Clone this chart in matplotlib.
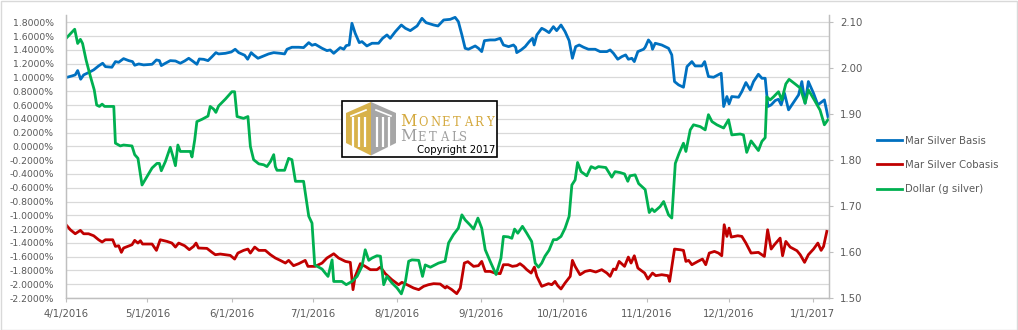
import numpy as np
import pandas as pd
import matplotlib
matplotlib.use("Agg")
import matplotlib.pyplot as plt
import matplotlib.dates as mdates
from matplotlib.patches import Rectangle, Polygon
from matplotlib.ticker import FuncFormatter

start = "2016-04-01"

# Mar Silver Basis (%), days after 4/1/2016
basis_days = [0, 2.2, 3.4, 4.3, 5.4, 6.5, 8.3, 10.2, 12.0, 13.5, 14.5, 16.9, 18.2, 19.4, 21.2, 23.1,
              24.5, 25.3, 26.8, 28.6, 31.7, 33.3, 34.4, 35.1, 36.6, 38.4, 40.3, 42.1, 43.7, 45.2, 46.6,
              48.2, 49.1, 50.7, 52.3, 53.8, 55.2, 56.2, 58.7, 60.9, 62.3, 63.6, 65.8, 66.9, 68.2, 69.1,
              70.7, 72.8, 74.6, 76.5, 78.9, 80.5, 81.4, 83.2, 85.7, 87.5, 89.4, 90.6, 91.8, 94.3, 96.1,
              97.3, 98.6, 101.0, 102.3, 103.2, 104.3, 105.3, 106.5, 108.0, 109.0, 110.8, 112.7, 115.1,
              116.6, 118.2, 119.4, 121.3, 123.5, 125.0, 126.8, 129.3, 131.1, 132.6, 135.4, 137.0, 139.1,
              141.5, 143.3, 144.5, 145.8, 147.0, 148.2, 150.7, 151.9, 153.1, 154.1, 156.2, 158.0, 159.9,
              161.1, 163.0, 164.8, 165.6, 166.0, 167.6, 169.1, 170.6, 171.8, 172.4, 173.4, 175.2, 176.4,
              177.9, 179.5, 180.7, 182.3, 183.8, 185.3, 186.5, 187.7, 189.0, 190.6, 192.4, 194.9, 196.7,
              199.2, 200.4, 201.6, 203.2, 204.7, 206.1, 207.1, 208.4, 209.3, 210.6, 212.7, 213.3, 214.5,
              215.5, 216.0, 217.0, 219.4, 221.9, 223.1, 224.1, 225.6, 227.4, 228.7, 230.5, 231.7, 234.2,
              235.2, 236.6, 238.5, 240.1, 241.3, 242.2, 243.4, 244.2, 245.2, 247.7, 248.9, 250.4, 252.0,
              253.2, 255.0, 256.3, 257.5, 258.5, 259.7, 261.2, 262.4, 263.4, 264.6, 266.1, 267.9, 269.8,
              271.0, 272.2, 273.4, 275.3, 276.9, 277.7, 279.3, 280.6]
basis_vals = [0.998, 1.022, 1.037, 1.10, 0.974, 1.037, 1.07, 1.11, 1.167, 1.206, 1.157, 1.148, 1.23, 1.22,
              1.273, 1.244, 1.23, 1.177, 1.196, 1.182, 1.191, 1.254, 1.244, 1.172, 1.206, 1.244, 1.239,
              1.206, 1.239, 1.278, 1.239, 1.191, 1.268, 1.263, 1.244, 1.302, 1.36, 1.341, 1.35, 1.37,
              1.409, 1.36, 1.322, 1.264, 1.36, 1.327, 1.278, 1.312, 1.341, 1.36, 1.35, 1.341, 1.409, 1.438,
              1.438, 1.433, 1.505, 1.467, 1.481, 1.423, 1.389, 1.399, 1.35, 1.433, 1.409, 1.462, 1.471,
              1.786, 1.641, 1.505, 1.52, 1.457, 1.496, 1.496, 1.568, 1.617, 1.568, 1.665, 1.761, 1.713,
              1.679, 1.747, 1.858, 1.795, 1.761, 1.747, 1.834, 1.843, 1.872, 1.81, 1.617, 1.423, 1.409,
              1.457, 1.423, 1.375, 1.534, 1.544, 1.544, 1.568, 1.471, 1.447, 1.471, 1.438, 1.36, 1.399,
              1.447, 1.52, 1.568, 1.471, 1.617, 1.713, 1.689, 1.65, 1.737, 1.679, 1.761, 1.665, 1.534,
              1.278, 1.447, 1.471, 1.438, 1.409, 1.409, 1.375, 1.375, 1.399, 1.351, 1.264, 1.302, 1.327,
              1.264, 1.278, 1.23, 1.375, 1.409, 1.438, 1.544, 1.496, 1.409, 1.496, 1.471, 1.423, 1.327,
              0.94, 0.892, 0.858, 1.157, 1.23, 1.167, 1.167, 1.23, 1.013, 1.003, 1.037, 1.061, 0.578,
              0.723, 0.616, 0.723, 0.713, 0.795, 0.926, 0.819, 0.94, 1.046, 0.988, 0.988, 0.578, 0.602,
              0.665, 0.684, 0.602, 0.771, 0.53, 0.636, 0.747, 0.94, 0.626, 0.94, 0.771, 0.602, 0.626,
              0.674, 0.433]

# Mar Silver Cobasis (%)
cobasis_days = [0, 1.6, 3.4, 5.3, 6.5, 8.3, 10.2, 12.0, 13.3, 14.5, 17.2, 18.2, 19.4, 20.4, 21.2, 24.3,
                25.3, 26.5, 27.4, 28.2, 31.7, 33.3, 34.7, 37.2, 39.0, 40.3, 41.5, 43.7, 45.4, 47.0, 47.9,
                48.8, 51.9, 53.8, 55.0, 56.8, 58.7, 60.5, 62.1, 63.3, 65.4, 67.0, 67.9, 69.5, 71.0, 73.4,
                75.3, 77.1, 78.9, 80.8, 82.0, 83.8, 85.7, 88.1, 89.1, 91.8, 94.3, 96.1, 98.6, 100.4, 102.9,
                104.7, 105.7, 106.5, 108.4, 110.2, 112.1, 114.5, 115.8, 117.6, 120.0, 122.5, 123.7, 125.6,
                128.0, 129.9, 131.7, 133.5, 135.4, 137.8, 139.7, 140.2, 142.1, 143.9, 145.2, 146.7, 148.0,
                150.1, 151.9, 153.1, 154.4, 156.2, 158.0, 159.9, 161.1, 162.9, 164.4, 166.0, 167.2, 168.5,
                169.7, 171.3, 172.5, 173.4, 175.2, 177.7, 178.9, 180.1, 181.1, 182.3, 183.8, 185.7, 186.5,
                187.5, 189.3, 191.2, 193.0, 195.1, 197.3, 199.2, 200.4, 201.6, 202.5, 203.7, 205.7, 207.1,
                208.1, 209.3, 210.6, 213.1, 214.3, 216.0, 217.2, 219.4, 221.7, 222.3, 224.1, 226.2, 227.4,
                228.3, 229.3, 230.5, 232.7, 234.4, 235.6, 236.9, 238.8, 240.3, 241.5, 242.4, 243.4, 244.2,
                245.0, 247.4, 248.9, 250.4, 252.3, 255.0, 257.2, 258.4, 259.7, 260.9, 263.0, 263.9, 265.1,
                266.7, 269.2, 270.4, 272.0, 273.4, 275.3, 276.9, 278.1, 279.0, 280.2]
cobasis_vals = [-1.137, -1.21, -1.268, -1.219, -1.268, -1.268, -1.297, -1.355, -1.388, -1.355, -1.355,
                -1.451, -1.442, -1.538, -1.475, -1.427, -1.364, -1.403, -1.369, -1.417, -1.417, -1.509,
                -1.355, -1.379, -1.403, -1.461, -1.403, -1.442, -1.499, -1.451, -1.403, -1.475, -1.48,
                -1.538, -1.572, -1.562, -1.572, -1.582, -1.635, -1.548, -1.509, -1.49, -1.548, -1.461,
                -1.509, -1.509, -1.572, -1.62, -1.654, -1.693, -1.654, -1.731, -1.702, -1.654, -1.741,
                -1.741, -1.693, -1.62, -1.558, -1.62, -1.669, -1.683, -2.079, -1.886, -1.702, -1.741,
                -1.789, -1.789, -1.751, -1.847, -1.934, -2.007, -1.973, -2.007, -2.055, -2.079, -2.031,
                -2.007, -1.992, -1.997, -2.055, -2.031, -2.079, -2.137, -2.055, -1.693, -1.673, -1.741,
                -1.731, -1.669, -1.814, -1.814, -1.838, -1.847, -1.717, -1.717, -1.741, -1.731, -1.702,
                -1.741, -1.789, -1.838, -1.751, -1.886, -2.031, -1.992, -2.007, -1.959, -2.021, -2.069,
                -1.982, -1.886, -1.654, -1.741, -1.862, -1.814, -1.799, -1.823, -1.789, -1.838, -1.886,
                -1.78, -1.789, -1.669, -1.741, -1.606, -1.693, -1.587, -1.765, -1.838, -1.925, -1.838,
                -1.876, -1.862, -1.876, -1.959, -1.49, -1.5, -1.509, -1.669, -1.654, -1.717, -1.669,
                -1.635, -1.717, -1.548, -1.524, -1.548, -1.587, -1.137, -1.306, -1.186, -1.316, -1.297,
                -1.306, -1.403, -1.548, -1.538, -1.597, -1.21, -1.49, -1.427, -1.331, -1.587, -1.379,
                -1.461, -1.514, -1.572, -1.683, -1.572, -1.49, -1.403, -1.509, -1.451, -1.234]

# Dollar (g silver), right axis
dollar_days = [0, 1.6, 3.2, 4.3, 5.3, 6.1, 7.4, 9.0, 10.4, 11.3, 12.3, 13.3, 14.2, 17.6, 18.2, 20.0, 21.2,
               24.3, 25.3, 26.5, 28.0, 29.8, 31.7, 33.5, 34.4, 35.1, 36.6, 38.4, 39.4, 40.3, 41.2, 42.1,
               45.8, 46.4, 47.4, 48.2, 50.1, 52.3, 53.1, 54.4, 55.2, 56.2, 58.7, 61.1, 62.1, 63.0, 65.4,
               67.0, 67.9, 69.1, 71.0, 72.8, 74.0, 75.3, 76.5, 77.1, 77.7, 80.5, 82.0, 83.2, 84.5, 87.5,
               89.4, 90.6, 91.6, 94.3, 95.5, 96.5, 98.0, 98.6, 101.6, 103.2, 105.3, 107.2, 109.0, 110.2,
               111.5, 112.7, 114.5, 115.8, 117.0, 118.2, 120.0, 121.9, 123.5, 125.0, 126.2, 127.4, 129.9,
               131.3, 132.3, 134.2, 137.2, 139.6, 140.9, 142.7, 144.5, 145.8, 147.0, 148.8, 150.1, 151.7,
               153.1, 154.4, 156.2, 158.4, 160.2, 161.1, 162.9, 164.2, 165.2, 166.4, 168.1, 169.7, 171.5,
               172.8, 174.0, 175.2, 176.4, 177.9, 179.5, 180.7, 182.3, 183.8, 185.3, 186.3, 187.5, 188.4,
               189.7, 191.8, 193.4, 194.9, 196.1, 198.8, 201.0, 202.2, 204.1, 205.7, 206.9, 207.7, 209.6,
               210.9, 213.3, 214.8, 215.8, 216.7, 218.8, 220.1, 221.9, 223.1, 224.4, 225.8, 227.4, 228.3,
               229.9, 231.1, 233.6, 235.4, 236.6, 237.9, 239.7, 242.2, 244.0, 245.2, 248.3, 249.5, 250.7,
               252.3, 255.0, 256.3, 257.5, 258.1, 259.3, 260.6, 262.4, 263.6, 265.1, 266.3, 268.5, 270.4,
               272.2, 273.4, 275.6, 277.7, 279.3, 280.6]
dollar_vals = [2.065, 2.075, 2.085, 2.054, 2.063, 2.054, 2.018, 1.982, 1.953, 1.92, 1.917, 1.922, 1.917,
               1.917, 1.837, 1.831, 1.833, 1.831, 1.812, 1.804, 1.746, 1.764, 1.783, 1.793, 1.793, 1.777,
               1.797, 1.828, 1.808, 1.788, 1.833, 1.819, 1.819, 1.807, 1.844, 1.884, 1.889, 1.896, 1.917,
               1.911, 1.904, 1.918, 1.933, 1.949, 1.949, 1.895, 1.891, 1.895, 1.83, 1.801, 1.792, 1.79,
               1.786, 1.797, 1.812, 1.786, 1.778, 1.778, 1.804, 1.801, 1.754, 1.754, 1.678, 1.663, 1.572,
               1.563, 1.554, 1.547, 1.583, 1.536, 1.536, 1.529, 1.536, 1.547, 1.569, 1.605, 1.582, 1.587,
               1.592, 1.591, 1.529, 1.547, 1.533, 1.522, 1.509, 1.536, 1.58, 1.583, 1.582, 1.547, 1.572,
               1.567, 1.576, 1.58, 1.62, 1.638, 1.652, 1.681, 1.67, 1.659, 1.65, 1.674, 1.652, 1.605,
               1.58, 1.551, 1.587, 1.634, 1.633, 1.63, 1.65, 1.641, 1.656, 1.641, 1.623, 1.576, 1.567,
               1.576, 1.591, 1.604, 1.627, 1.627, 1.634, 1.652, 1.678, 1.746, 1.757, 1.795, 1.775, 1.766,
               1.786, 1.782, 1.786, 1.784, 1.763, 1.775, 1.773, 1.77, 1.754, 1.766, 1.768, 1.749, 1.736,
               1.686, 1.694, 1.688, 1.699, 1.71, 1.681, 1.674, 1.793, 1.815, 1.837, 1.819, 1.866, 1.877,
               1.873, 1.866, 1.899, 1.884, 1.877, 1.87, 1.888, 1.855, 1.857, 1.855, 1.817, 1.842, 1.821,
               1.841, 1.849, 1.938, 1.931, 1.938, 1.949, 1.931, 1.966, 1.976, 1.966, 1.957, 1.924, 1.953,
               1.931, 1.909, 1.877, 1.888]

series_names = ["Mar Silver Basis", "Mar Silver Cobasis", "Dollar (g silver)"]
series_colors = ["#0070C0", "#C00000", "#00B050"]

left_ticks = [round(-2.2 + 0.2 * i, 1) for i in range(21)]
right_ticks = [1.5, 1.6, 1.7, 1.8, 1.9, 2.0, 2.1]
month_ticks = ["2016-04-01", "2016-05-01", "2016-06-01", "2016-07-01", "2016-08-01", "2016-09-01",
               "2016-10-01", "2016-11-01", "2016-12-01", "2017-01-01"]


def to_dates(days):
    return pd.Timestamp(start) + pd.to_timedelta(np.array(days), unit="D")


W, H = 1018, 330
plt.rcParams["font.family"] = "DejaVu Sans"
fig = plt.figure(figsize=(W / 100, H / 100), dpi=100)
fig.patch.set_facecolor("white")

ax = fig.add_axes([66 / W, 1 - 298 / H, (829 - 66) / W, (298 - 15) / H])
ax2 = ax.twinx()

l1, = ax.plot(to_dates(basis_days), basis_vals, color=series_colors[0], lw=2, solid_joinstyle="round")
l2, = ax.plot(to_dates(cobasis_days), cobasis_vals, color=series_colors[1], lw=2, solid_joinstyle="round")
l3, = ax2.plot(to_dates(dollar_days), dollar_vals, color=series_colors[2], lw=2, solid_joinstyle="round")

ax.set_xlim(pd.Timestamp(start), pd.Timestamp(start) + pd.Timedelta(days=281))
ax.set_ylim(-2.2, 1.906)
ax2.set_ylim(1.5, 2.116)

ax.set_yticks(left_ticks)
ax.yaxis.set_major_formatter(FuncFormatter(lambda v, p: f"{v:.4f}%"))
ax2.set_yticks(right_ticks)
ax2.yaxis.set_major_formatter(FuncFormatter(lambda v, p: f"{v:.2f}"))
ax.set_xticks(pd.to_datetime(month_ticks))
ax.xaxis.set_major_formatter(FuncFormatter(
    lambda v, p: "{d.month}/{d.day}/{d.year}".format(d=mdates.num2date(v))))

grey = "#595959"
line_grey = "#D9D9D9"
ax.grid(axis="y", color=line_grey, lw=0.9)
ax.set_axisbelow(True)
for a in (ax, ax2):
    a.spines["top"].set_visible(False)
    for s in ("left", "right", "bottom"):
        a.spines[s].set_color("#BFBFBF")
        a.spines[s].set_linewidth(0.9)
ax.tick_params(axis="y", length=0, pad=9, labelsize=6.7, labelcolor=grey)
ax.tick_params(axis="x", length=3, color="#BFBFBF", pad=5, labelsize=7.3, labelcolor=grey)
ax2.tick_params(axis="y", length=3, color="#BFBFBF", pad=5, labelsize=7.3, labelcolor=grey)

fig.legend([l1, l2, l3], series_names, loc="center left", bbox_to_anchor=(877 / W, 1 - 165 / H),
           frameon=False, fontsize=7.3, labelcolor=grey, handlelength=2.5, handletextpad=0.3,
           labelspacing=1.4, borderpad=0, borderaxespad=0)

# overlay in pixel units for frame and logo
ov = fig.add_axes([0, 0, 1, 1], zorder=10)
ov.set_xlim(0, W)
ov.set_ylim(H, 0)
ov.axis("off")
ov.add_patch(Rectangle((0.5, 0.5), W - 1, H - 1, fill=False, ec="#D9D9D9", lw=1))

ov.add_patch(Rectangle((342.5, 100.5), 155, 56, fc="white", ec="black", lw=1.2))
gold = "#D8B24A"
silver = "#A6A6A6"
ov.add_patch(Polygon([(346, 113), (371, 102), (371, 155.5), (346, 143)], closed=True, fc=gold, ec="none"))
ov.add_patch(Polygon([(371, 102), (396, 113), (396, 143), (371, 155.5)], closed=True, fc=silver, ec="none"))
for x in (352.7, 359, 365, 377, 383.3, 389.5):
    ov.plot([x, x], [117, 147], color="white", lw=1.6, solid_capstyle="butt")
ov.plot([351, 366], [116, 110], color="white", lw=1.2)
ov.plot([376, 391], [110, 116], color="white", lw=1.2)

for ch, x in zip("MONETARY", [408.5, 423, 435.5, 446, 457, 468.3, 479, 490]):
    ov.text(x, 125.7, ch, ha="center", va="baseline", family="DejaVu Serif", color="#D4A93E",
            fontsize=11.5 if x < 410 else 8.3)
for ch, x in zip("METALS", [408.5, 421.5, 432.3, 444, 454.7, 462.7]):
    ov.text(x, 140.7, ch, ha="center", va="baseline", family="DejaVu Serif", color="#9E9E9E",
            fontsize=11.5 if x < 410 else 8.3)
ov.text(455.8, 149.7, "Copyright 2017", ha="center", va="center", color="black", fontsize=7.3)

fig.savefig("out.png", dpi=100, facecolor="white")
